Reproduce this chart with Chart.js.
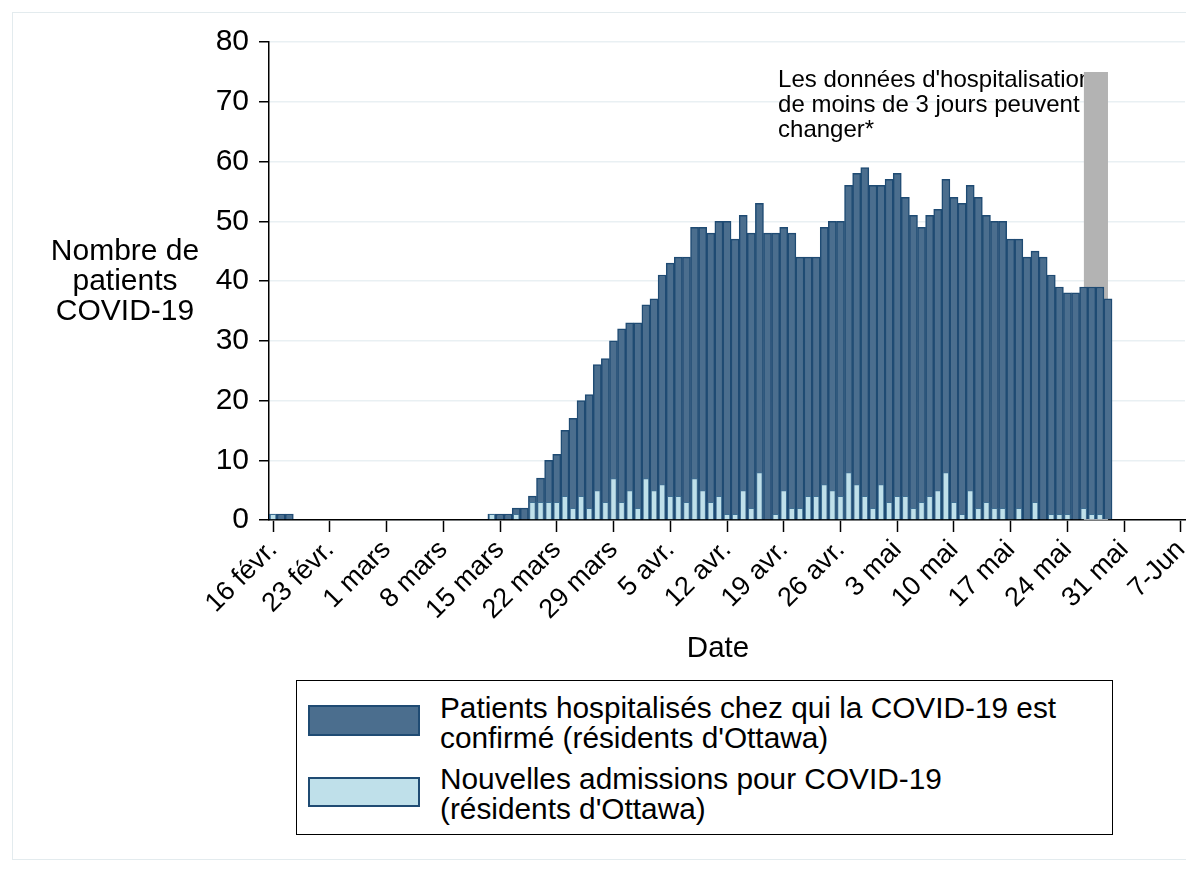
<!DOCTYPE html>
<html>
<head>
<meta charset="utf-8">
<script src="https://cdn.jsdelivr.net/npm/chart.js@4.4.0/dist/chart.umd.min.js"></script>
<style>
  body { margin: 0; background: #fff; font-family: "Liberation Sans", Arial, sans-serif; }
  #wrap { position: relative; width: 1186px; height: 869px; overflow: hidden; }
  #frame { position: absolute; left: 12px; top: 12px; width: 1200px; height: 846px; border: 1px solid #e3ebee; }
  #c { position: absolute; left: 0; top: 0; }
  #ytitle { position: absolute; left: 25px; top: 235px; width: 200px; text-align: center; font-size: 30px; line-height: 30px; color: #000; }
  #xtitle { position: absolute; left: 618px; top: 632px; width: 200px; text-align: center; font-size: 29.5px; line-height: 30px; color: #000; }
  #legend { position: absolute; left: 296px; top: 680px; width: 815px; height: 153px; border: 1.5px solid #000; }
  .sw { position: absolute; left: 11px; width: 108px; border: 2px solid #1f4b73; }
  .lt { position: absolute; left: 143px; font-size: 29.8px; line-height: 30px; color: #000; white-space: nowrap; }
</style>
</head>
<body>
<div id="wrap">
  <div id="frame"></div>
  <canvas id="c" width="1186" height="680"></canvas>
  <div id="ytitle">Nombre de<br>patients<br>COVID-19</div>
  <div id="xtitle">Date</div>
  <div id="legend">
    <div class="sw" style="top:24px;height:27px;background:#4b6e8e"></div>
    <div class="lt" style="top:12px">Patients hospitalisés chez qui la COVID-19 est<br>confirmé (résidents d'Ottawa)</div>
    <div class="sw" style="top:96px;height:26px;background:#bfe0ea"></div>
    <div class="lt" style="top:83px">Nouvelles admissions pour COVID-19<br>(résidents d'Ottawa)</div>
  </div>
</div>
<script>
// one category per day, 16 févr. -> 7 juin 2020
const START_DAY = [2020, 1, 16];
const N_DAYS = 113;
const TICK_LABELS = ["16 févr.", "23 févr.", "1 mars", "8 mars", "15 mars", "22 mars", "29 mars",
  "5 avr.", "12 avr.", "19 avr.", "26 avr.", "3 mai", "10 mai", "17 mai", "24 mai", "31 mai", "7-Jun"];

// 16 févr. -> 29 mai
const HOSPITALISES = [
  1, 1, 1,
  0, 0, 0, 0, 0, 0, 0, 0, 0, 0, 0, 0, 0, 0, 0, 0, 0, 0, 0, 0, 0, 0, 0, 0,
  1, 1, 1, 2, 2, 4, 7, 10, 11, 15, 17, 20, 21, 26, 27, 30, 32, 33,
  33, 36, 37, 41, 43, 44, 44, 49, 49, 48, 50, 50, 47, 51, 48, 53, 48, 48, 49, 48,
  44, 44, 44, 49, 50, 50, 56, 58, 59, 56,
  56, 57, 58, 54, 51, 49, 51, 52, 57, 54, 53, 56, 54, 51, 50, 50, 47, 47, 44, 45,
  44, 41, 39, 38, 38, 39, 39, 39, 37
];
const ADMISSIONS = [
  1, 0, 0,
  0, 0, 0, 0, 0, 0, 0, 0, 0, 0, 0, 0, 0, 0, 0, 0, 0, 0, 0, 0, 0, 0, 0, 0,
  1, 0, 0, 1, 0, 3, 3, 3, 3, 4, 2, 4, 2, 5, 3, 7, 3, 5,
  2, 7, 5, 6, 4, 4, 3, 7, 5, 3, 4, 1, 1, 5, 2, 8, 0, 1, 5, 2,
  2, 4, 4, 6, 5, 4, 8, 6, 4, 2,
  6, 3, 4, 4, 2, 3, 4, 5, 8, 3, 1, 5, 2, 3, 2, 2, 0, 2, 0, 3,
  0, 1, 1, 1, 0, 2, 1, 1, 0
];

// grey band for the last 3 days (26 -> 29 mai)
const BAND_FROM = 100, BAND_TO = 103, BAND_TOP = 75;
const NOTE_LINES = ["Les données d'hospitalisation", "de moins de 3 jours peuvent", "changer*"];
const NOTE_DAY = 62.3, NOTE_Y = 72.4;

const FONT = "'Liberation Sans', Arial, sans-serif";

const days = [];
for (let i = 0; i < N_DAYS; i++) {
  const d = new Date(START_DAY[0], START_DAY[1], START_DAY[2] + i);
  days.push(d.getFullYear() + "-" + (d.getMonth() + 1) + "-" + d.getDate());
}
const band = days.map((_, i) => (i >= BAND_FROM && i <= BAND_TO) ? BAND_TOP : null);

const notePlugin = {
  id: "note",
  beforeDatasetsDraw(chart) {
    const { ctx, scales: { x, y } } = chart;
    ctx.save();
    ctx.fillStyle = "#000";
    ctx.font = "24px " + FONT;
    ctx.textAlign = "left";
    ctx.textBaseline = "alphabetic";
    const px = x.getPixelForDecimal((NOTE_DAY + 0.5) / N_DAYS);
    const py = y.getPixelForValue(NOTE_Y);
    NOTE_LINES.forEach((t, i) => ctx.fillText(t, px, py + i * 25));
    ctx.restore();
  }
};

new Chart(document.getElementById("c"), {
  type: "bar",
  data: {
    labels: days,
    datasets: [
      { type: "line", data: band, order: 3, fill: "origin", backgroundColor: "#b3b3b3",
        borderWidth: 0, pointRadius: 0, spanGaps: true },
      { label: "Patients hospitalisés chez qui la COVID-19 est confirmé (résidents d'Ottawa)",
        data: HOSPITALISES, order: 2, backgroundColor: "#4b6e8e", borderColor: "#1f4b73",
        borderWidth: 1.5, barPercentage: 1, categoryPercentage: 1, grouped: false },
      { label: "Nouvelles admissions pour COVID-19 (résidents d'Ottawa)",
        data: ADMISSIONS, order: 1, backgroundColor: "#bfe0ea", borderColor: "#3f6f93",
        borderWidth: 1, barPercentage: 0.8, categoryPercentage: 1, grouped: false }
    ]
  },
  options: {
    responsive: false,
    animation: false,
    layout: { padding: { left: 209, top: 42, right: 1, bottom: 15 } },
    plugins: { legend: { display: false }, tooltip: { enabled: false } },
    scales: {
      x: {
        offset: true,
        grid: { offset: false, drawOnChartArea: false, tickLength: 12, tickColor: "#000", tickWidth: 1.5 },
        border: { color: "#000", width: 1.5 },
        ticks: {
          autoSkip: false, minRotation: 45, maxRotation: 45, padding: 2, color: "#000",
          font: { size: 27, family: FONT },
          callback: (v, i) => (i % 7 === 0 ? TICK_LABELS[i / 7] : null)
        },
        afterFit: s => { s.height = 145; s.paddingLeft = 0; s.paddingRight = 0; }
      },
      y: {
        min: 0, max: 80,
        ticks: { stepSize: 10, padding: 10, color: "#000", font: { size: 30, family: FONT } },
        grid: { color: "#e9f0f3", lineWidth: 1.5, tickColor: "#000", tickLength: 10, tickWidth: 1.5 },
        border: { color: "#000", width: 1.5 },
        afterFit: s => { s.width = 60; }
      }
    }
  },
  plugins: [notePlugin]
});
</script>
</body>
</html>
